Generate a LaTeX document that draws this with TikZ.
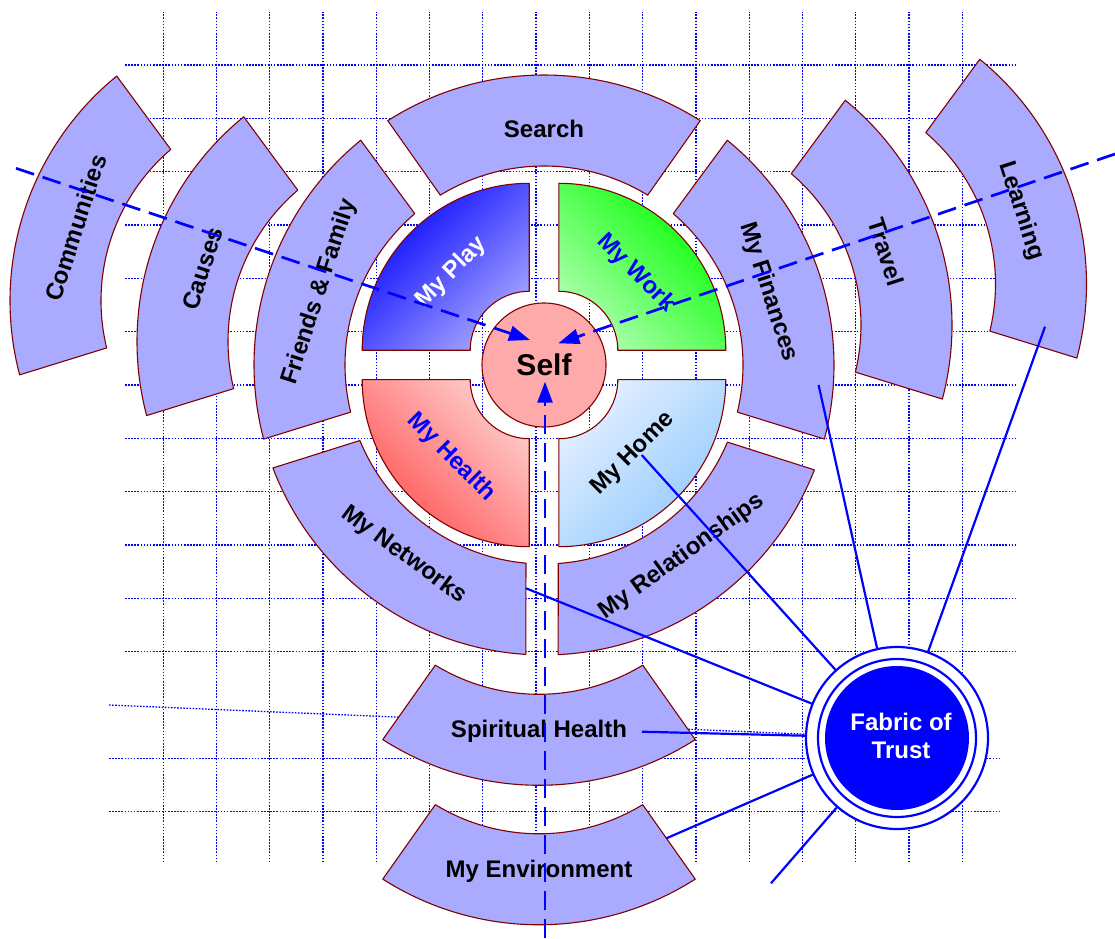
\documentclass[tikz,border=0pt]{standalone}
\usepackage{fontspec}
\setmainfont{Liberation Sans}
\usetikzlibrary{arrows.meta,backgrounds}
\definecolor{secfill}{RGB}{170,170,255}
\definecolor{secdraw}{RGB}{128,0,0}
\definecolor{selffill}{RGB}{255,170,170}
\definecolor{playlight}{RGB}{165,165,255}
\definecolor{worklight}{RGB}{175,255,175}
\definecolor{healthdark}{RGB}{255,80,80}
\definecolor{healthlight}{RGB}{255,205,205}
\definecolor{homelight}{RGB}{228,240,255}
\definecolor{homedark}{RGB}{145,200,255}
% #1 style, #2 #3 centre, #4 outer r, #5 inner r, #6 #7 outer angles, #8 #9 inner angles
\newcommand{\ringsec}[9]{%
  \path[#1] ([shift={(#6:#4pt)}]#2,#3) arc[start angle=#6, end angle=#7, radius=#4pt]
    -- ([shift={(#9:#5pt)}]#2,#3) arc[start angle=#9, end angle=#8, radius=#5pt] -- cycle;}
\begin{document}
\begin{tikzpicture}[x=1pt,y=1pt,line join=round,
  sec/.style={draw=secdraw, line width=1.1pt, fill=secfill},
  play/.style={draw=secdraw, line width=1.1pt, top color=blue, bottom color=playlight, shading angle=45},
  work/.style={draw=secdraw, line width=1.1pt, top color=green, bottom color=worklight, shading angle=-45},
  health/.style={draw=secdraw, line width=1.1pt, top color=healthlight, bottom color=healthdark, shading angle=-45},
  home/.style={draw=secdraw, line width=1.1pt, top color=homelight, bottom color=homedark, shading angle=45},
  lbl/.style={font=\fontsize{24}{28}\selectfont\bfseries, inner sep=0pt},
  gridln/.style={blue, line width=1.3pt, dash pattern=on 1.6pt off 1.5pt},
  dasharrow/.style={blue, line width=2.7pt, dash pattern=on 19pt off 9pt, -{Triangle[length=21pt,width=15pt]}},
  link/.style={blue, line width=2.2pt}]
\useasboundingbox (0,0) rectangle (1115,938);

% outer ring sectors
\ringsec{sec}{544}{573}{290}{199}{57.4}{122.6}{58.6}{121.4}
\ringsec{sec}{544}{573}{290}{199}{129.2}{194.8}{130.5}{193.7}
\ringsec{sec}{427}{596.5}{290}{199}{129.2}{194.8}{130.5}{193.7}
\ringsec{sec}{300}{637.2}{290}{199}{129.2}{194.8}{130.5}{193.7}
\ringsec{sec}{544}{573}{290}{199}{-14.8}{50.8}{-13.7}{49.5}
\ringsec{sec}{662}{613}{290}{199}{-14.8}{50.8}{-13.7}{49.5}
\ringsec{sec}{796.5}{654}{290}{199}{-14.8}{50.8}{-13.7}{49.5}
\ringsec{sec}{544}{573}{290}{199}{200.8}{266.4}{202.3}{264.8}
\ringsec{sec}{544}{573}{290}{199}{272.8}{338.8}{274.1}{337.2}
\ringsec{sec}{539}{442.7}{290}{199}{237.4}{302.6}{238.6}{301.4}
\ringsec{sec}{539}{303.2}{290}{199}{237.4}{302.6}{238.6}{301.4}

% quadrants
\ringsec{play}{529.2}{587.7}{167}{59}{90}{180}{90}{180}
\ringsec{work}{558.8}{587.7}{167}{59}{0}{90}{0}{90}
\ringsec{health}{529.2}{558.3}{167}{59}{180}{270}{180}{270}
\ringsec{home}{558.8}{558.3}{167}{59}{270}{360}{270}{360}

\node[circle, fill=selffill, draw=secdraw, line width=1.1pt, minimum size=124pt, inner sep=0pt,
  font=\fontsize{30}{34}\selectfont\bfseries] (self) at (544,573) {Self};

% labels
\node[lbl] (search) at ([shift={(90:236pt)}]544,573) {Search};
\node[lbl, rotate=72] (ff) at ([shift={(162:236pt)}]544,573) {Friends \& Family};
\node[lbl, rotate=72] (causes) at ([shift={(162:236pt)}]427,596.5) {Causes};
\node[lbl, rotate=72] (comm) at ([shift={(162:236pt)}]300,637.2) {Communities};
\node[lbl, rotate=-72] (finances) at ([shift={(18:236pt)}]544,573) {My Finances};
\node[lbl, rotate=-72] (travel) at ([shift={(18:236pt)}]662,613) {Travel};
\node[lbl, rotate=-72] (learning) at ([shift={(18:236pt)}]796.5,654) {Learning};
\node[lbl, rotate=-36.4] (networks) at ([shift={(233.6:236pt)}]544,573) {My Networks};
\node[lbl, rotate=35.8] (relations) at ([shift={(305.8:236pt)}]544,573) {My Relationships};
\node[lbl] (spiritual) at ([shift={(270:236pt)}]539,442.7) {Spiritual Health};
\node[lbl] (environment) at ([shift={(270:236pt)}]539,303.2) {My Environment};
\node[lbl, rotate=45, text=white] (myplay) at ([shift={(135:110pt)}]529.2,587.7) {My Play};
\node[lbl, rotate=-45, text=blue] (mywork) at ([shift={(45:109pt)}]558.8,587.7) {My Work};
\node[lbl, rotate=-45, text=blue] (myhealth) at ([shift={(225:110pt)}]529.2,558.3) {My Health};
\node[lbl, rotate=45] (myhome) at ([shift={(315:105pt)}]558.8,558.3) {My Home};

% Fabric of Trust
\node[circle, draw=blue, line width=2.2pt, fill=white, minimum size=182pt, inner sep=0pt] (fab) at (897,200) {};
\draw[blue, line width=2.2pt] (fab.center) circle[radius=79pt];
\node[circle, fill=blue, minimum size=144pt, inner sep=0pt] (fabcore) at (fab.center) {};
\node[lbl, text=white, align=center, font=\fontsize{24}{28.5}\selectfont\bfseries] (fabtext) at ([xshift=4pt,yshift=2pt]fab.center) {Fabric of\\Trust};

% connector ends
\coordinate (cfin) at (818.6,553);
\coordinate (clearn) at (1045,611.3);
\coordinate (chome) at (641.7,483);
\coordinate (cnet) at (526,349.7);
\coordinate (cspir) at (641.8,206.3);
\coordinate (cenv) at (666.4,99.7);
\coordinate (cfree) at (771,54.7);
\coordinate (cdot) at (109,233);

\draw[link] (cfin) -- (fab);
\draw[link] (clearn) -- (fab);
\draw[link] (chome) -- (fab);
\draw[link] (cnet) -- (fab);
\draw[link] (cspir) -- (fab);
\draw[link] (cenv) -- (fab);
\draw[link] (fab) -- (cfree);

% dashed arrows to Self
\coordinate (aLs) at (16,769.7); \coordinate (aLt) at (530,598);
\coordinate (aRs) at (1115,784); \coordinate (aRt) at (558.3,594.7);
\coordinate (aBs) at (545,0);    \coordinate (aBt) at (545,556.3);
\draw[dasharrow] (aLs) -- (aLt);
\draw[dasharrow] (aRs) -- (aRt);
\draw[dasharrow] (aBs) -- (aBt);

% grid in the background
\begin{scope}[on background layer]
\foreach \k in {0,...,15} { \draw[gridln] ({163.2+53.27*\k},75.7) -- ({163.2+53.27*\k},926.3); }
\foreach \k in {0,...,11} { \draw[gridln] (125,{873-53.33*\k}) -- (1016,{873-53.33*\k}); }
\foreach \k in {13,14} { \draw[gridln] (109,{873-53.33*\k}) -- (1001,{873-53.33*\k}); }
\draw[gridln] (cdot) -- (fab);
\end{scope}
\end{tikzpicture}
\end{document}
